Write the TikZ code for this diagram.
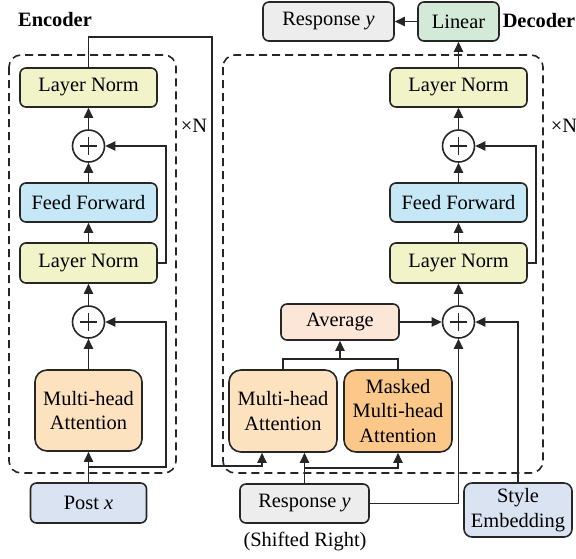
\documentclass[tikz,border=0pt]{standalone}
\usepackage{fontspec}
\setmainfont{Liberation Serif}
\newfontfamily\tnr{Liberation Serif}
\usetikzlibrary{arrows.meta,calc}
\definecolor{lnc}{HTML}{F0F4C8}
\definecolor{ffc}{HTML}{C6E7F6}
\definecolor{mhac}{HTML}{FDE2C0}
\definecolor{mskc}{HTML}{FCC88A}
\definecolor{avgc}{HTML}{FBE6D8}
\definecolor{linc}{HTML}{D3EAD8}
\definecolor{respc}{HTML}{EDEDED}
\definecolor{inpc}{HTML}{DAE3F2}
\definecolor{edgec}{HTML}{262626}
\begin{document}
\begin{tikzpicture}[x=0.5pt,y=-0.5pt,
  txt/.style={font=\tnr\fontsize{10.2}{12.2}\selectfont},
  box/.style={draw=edgec, line width=0.8pt, rounded corners=3pt, align=center, inner sep=0pt, txt},
  bigbox/.style={box, rounded corners=6pt, minimum width=54pt, minimum height=41pt},
  wide/.style={box, minimum width=68.5pt, minimum height=19.5pt},
  plusnode/.style={circle, draw=edgec, fill=white, line width=0.8pt, minimum size=16pt, inner sep=0pt,
    path picture={
      \draw[line width=0.8pt] ([xshift=-4.3pt]path picture bounding box.center) -- ([xshift=4.3pt]path picture bounding box.center);
      \draw[line width=0.8pt] ([yshift=-4.3pt]path picture bounding box.center) -- ([yshift=4.3pt]path picture bounding box.center);
    }},
  arr/.style={line width=0.8pt, draw=edgec, -{Triangle[length=5pt,width=4.6pt]}},
  ln/.style={line width=0.8pt, draw=edgec},
  dashbox/.style={line width=0.8pt, draw=edgec, dash pattern=on 4pt off 2.5pt, rounded corners=6pt}
]
\useasboundingbox (0,0) rectangle (576,558);

% dashed containers
\draw[dashbox] (9,55) rectangle (176,473);
\draw[dashbox] (223,55) rectangle (543,473);

% labels
\node[font=\tnr\fontsize{10.2}{12.2}\selectfont\bfseries] (enclab) at (55,20) {Encoder};
\node[font=\tnr\fontsize{10.2}{12.2}\selectfont\bfseries] (declab) at (539,21) {Decoder};
\node[txt] (nenc) at (194,126) {×N};
\node[txt] (ndec) at (564,126) {×N};

% encoder
\node[wide, fill=lnc] (encLN1) at (88.5,87.5) {Layer Norm};
\node[plusnode] (encP1) at (88.5,146) {};
\node[wide, fill=ffc] (encFF) at (88.5,202.5) {Feed Forward};
\node[wide, fill=lnc, minimum height=20pt] (encLN2) at (88.5,263) {Layer Norm};
\node[plusnode] (encP2) at (88.5,322) {};
\node[bigbox, fill=mhac, minimum width=53.5pt, minimum height=40.5pt] (encMHA) at (88.5,410.5) {Multi-head\\Attention};
\node[box, fill=inpc, minimum width=58pt, minimum height=20pt] (post) at (88.5,503) {Post \textit{x}};

% decoder
\node[box, fill=respc, minimum width=65.5pt, minimum height=19.5pt] (respTop) at (328.5,21.5) {Response \textit{y}};
\node[box, fill=linc, minimum width=40.5pt, minimum height=19.5pt] (linear) at (458.5,21.5) {Linear};
\node[wide, fill=lnc] (decLN1) at (458.5,87.5) {Layer Norm};
\node[plusnode] (decP1) at (458.5,146) {};
\node[wide, fill=ffc] (decFF) at (458.5,202.5) {Feed Forward};
\node[wide, fill=lnc, minimum height=20pt] (decLN2) at (458.5,263) {Layer Norm};
\node[plusnode] (decP2) at (458.5,322) {};
\node[box, fill=avgc, minimum width=59pt, minimum height=18pt] (avg) at (340,322) {Average};
\node[bigbox, fill=mhac] (decMHA) at (283,411) {Multi-head\\Attention};
\node[bigbox, fill=mskc] (masked) at (398,411) {Masked\\Multi-head\\Attention};
\node[box, fill=respc, minimum width=64.5pt, minimum height=19.5pt] (respBot) at (304.5,503.5) {Response \textit{y}};
\node[txt] (shifted) at (305,542) {(Shifted Right)};
\node[box, fill=inpc, minimum width=54pt, minimum height=27pt, rounded corners=4pt] (style) at (518,510) {Style\\Embedding};

% encoder connectors
\draw[arr] (encMHA.north) -- (encP2.south);
\draw[arr] (encP2.north) -- (encLN2.south);
\draw[arr] (encLN2.north) -- (encFF.south);
\draw[arr] (encFF.north) -- (encP1.south);
\draw[arr] (encP1.north) -- (encLN1.south);
\coordinate (es1) at (166,263);
\draw[arr] (encLN2.east) -- (es1) |- (encP1.east);
\draw[arr] (post.north) -- (encMHA.south);
\coordinate (eb1) at (88.5,467);
\coordinate (eb2) at (166,467);
\draw[arr] (eb1) -- (eb2) |- (encP2.east);
\coordinate (rt1) at (212,37);
\coordinate (rt2) at (262,466);
\draw[arr] (encLN1.north) |- (rt1) |- (rt2) -- ([xshift=-10.5pt]decMHA.south);

% decoder connectors
\draw[arr] (respBot.north) -- (respBot.north |- decMHA.south);
\coordinate (db1) at (304.5,468);
\draw[arr] (db1) -| (masked.south);
\draw[arr] (respBot.east) -| (decP2.south);
\draw[arr] (style.north) |- (decP2.east);
\draw[arr] (avg.east) -- (decP2.west);
\coordinate (jn) at (340,359);
\draw[ln] (decMHA.north) |- (jn) -| (masked.north);
\draw[arr] (jn) -- (avg.south);
\draw[arr] (decP2.north) -- (decLN2.south);
\draw[arr] (decLN2.north) -- (decFF.south);
\draw[arr] (decFF.north) -- (decP1.south);
\draw[arr] (decP1.north) -- (decLN1.south);
\draw[arr] (decLN1.north) -- (linear.south);
\draw[arr] (linear.west) -- (respTop.east);
\coordinate (ds1) at (536,263);
\draw[arr] (decLN2.east) -- (ds1) |- (decP1.east);
\end{tikzpicture}
\end{document}
